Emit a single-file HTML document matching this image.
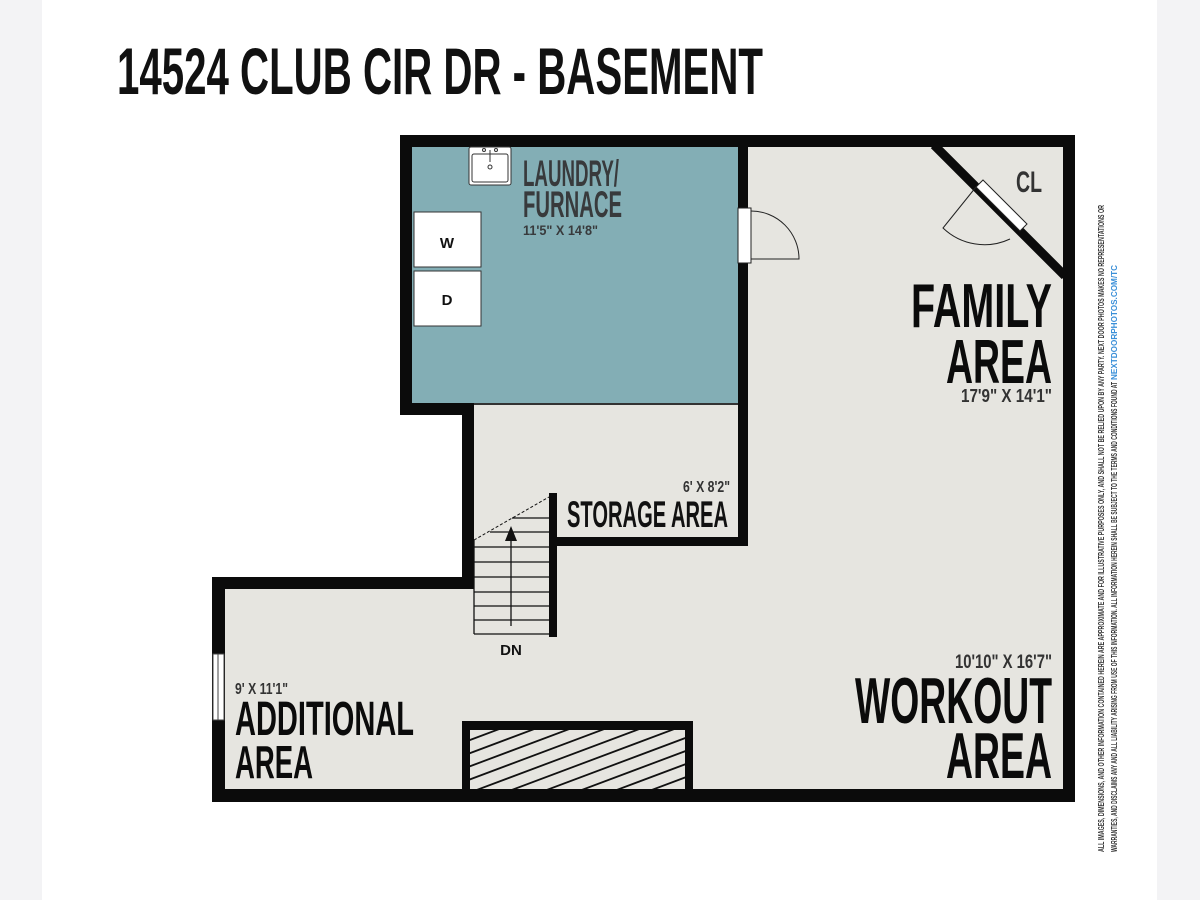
<!DOCTYPE html>
<html><head><meta charset="utf-8"><style>
html,body{margin:0;padding:0;background:#f3f3f5;}
svg{display:block}
text{font-family:"Liberation Sans Narrow","Liberation Sans",sans-serif;font-weight:bold;}
</style></head><body>
<svg width="1200" height="900" viewBox="0 0 1200 900" xmlns="http://www.w3.org/2000/svg">
<rect x="0" y="0" width="1200" height="900" fill="#f3f3f5"/>
<rect x="42" y="0" width="1115" height="900" fill="#ffffff"/>
<text x="117" y="94" font-size="66" textLength="646" lengthAdjust="spacingAndGlyphs" fill="#111">14524 CLUB CIR DR - BASEMENT</text>

<polygon points="400,135 1075,135 1075,802 212,802 212,577 462,577 462,415 400,415" fill="#0b0b0b"/>
<polygon points="412,147 1063,147 1063,789 225,789 225,589 474,589 474,403 412,403" fill="#e6e5e0"/>
<rect x="412" y="147" width="326" height="256" fill="#83aeb5"/>
<rect x="474" y="403" width="264" height="2" fill="#333"/>
<rect x="738" y="147" width="10" height="399" fill="#0b0b0b"/>
<rect x="557" y="537" width="191" height="9" fill="#0b0b0b"/>
<rect x="549" y="493" width="8" height="144" fill="#0b0b0b"/>
<line x1="934" y1="145" x2="1065" y2="276" stroke="#0b0b0b" stroke-width="9"/>

<polygon points="983,180 1027,224 1020,231 976,187" fill="#fff" stroke="#222" stroke-width="1"/>
<path d="M976,187 L943,228 A60,60 0 0 0 1010,239" fill="none" stroke="#222" stroke-width="1"/>

<rect x="738" y="208" width="13" height="55" fill="#fff" stroke="#222" stroke-width="1"/>
<path d="M751,211 A48,48 0 0 1 799,259 L751,259" fill="none" stroke="#222" stroke-width="1"/>

<rect x="469" y="147" width="42" height="38" rx="2" fill="#fff" stroke="#333" stroke-width="1"/>
<rect x="472" y="154" width="36" height="28" rx="2" fill="#fff" stroke="#333" stroke-width="1"/>
<circle cx="490" cy="167" r="2" fill="none" stroke="#333"/>
<line x1="490" y1="150" x2="490" y2="162" stroke="#333"/>
<circle cx="484" cy="150" r="1.5" fill="none" stroke="#333"/><circle cx="496" cy="150" r="1.5" fill="none" stroke="#333"/>

<rect x="414" y="212" width="67" height="55" fill="#fff" stroke="#333" stroke-width="1"/>
<rect x="414" y="271" width="67" height="55" fill="#fff" stroke="#333" stroke-width="1"/>
<text x="447" y="248" font-size="15" text-anchor="middle" fill="#111">W</text>
<text x="447" y="305" font-size="15" text-anchor="middle" fill="#111">D</text>

<g stroke="#111" stroke-width="1.3">
<line x1="474" y1="540" x2="474" y2="634"/>
<line x1="474" y1="634" x2="549" y2="634"/>
<line x1="474" y1="620" x2="549" y2="620"/>
<line x1="474" y1="606" x2="549" y2="606"/>
<line x1="474" y1="592" x2="549" y2="592"/>
<line x1="474" y1="577" x2="549" y2="577"/>
<line x1="474" y1="562" x2="549" y2="562"/>
<line x1="474" y1="547" x2="549" y2="547"/>
<line x1="490" y1="532" x2="549" y2="532"/>
<line x1="512" y1="518" x2="549" y2="518"/>
<line x1="511" y1="626" x2="511" y2="538"/>
</g>
<line x1="474" y1="540" x2="549" y2="497" stroke="#111" stroke-width="1" stroke-dasharray="3,2"/>
<polygon points="511,526 505,541 517,541" fill="#111"/>
<text x="511" y="655" font-size="15" text-anchor="middle" fill="#111">DN</text>

<rect x="213" y="654" width="11" height="66" fill="#fff" stroke="#444" stroke-width="1"/>
<line x1="218" y1="654" x2="218" y2="720" stroke="#444" stroke-width="1"/>

<rect x="462" y="721" width="231" height="69" fill="#0b0b0b"/>
<clipPath id="hc"><rect x="470" y="730" width="215" height="59"/></clipPath>
<rect x="470" y="730" width="215" height="59" fill="#e6e5e0"/>
<g clip-path="url(#hc)" stroke="#111" stroke-width="1.8">
<line x1="310" y1="800" x2="510" y2="725"/>
<line x1="345" y1="800" x2="545" y2="725"/>
<line x1="380" y1="800" x2="580" y2="725"/>
<line x1="415" y1="800" x2="615" y2="725"/>
<line x1="450" y1="800" x2="650" y2="725"/>
<line x1="485" y1="800" x2="685" y2="725"/>
<line x1="520" y1="800" x2="720" y2="725"/>
<line x1="555" y1="800" x2="755" y2="725"/>
<line x1="590" y1="800" x2="790" y2="725"/>
<line x1="625" y1="800" x2="825" y2="725"/>
<line x1="660" y1="800" x2="860" y2="725"/>
</g>

<text x="523" y="186" font-size="37" textLength="96" lengthAdjust="spacingAndGlyphs" fill="#383a3c">LAUNDRY/</text>
<text x="523" y="217" font-size="37" textLength="99" lengthAdjust="spacingAndGlyphs" fill="#383a3c">FURNACE</text>
<text x="523" y="235" font-size="14" textLength="75" lengthAdjust="spacingAndGlyphs" fill="#383a3c" font-weight="normal">11'5" X 14'8"</text>

<text x="1016" y="192" font-size="30" textLength="26" lengthAdjust="spacingAndGlyphs" fill="#333">CL</text>
<text x="911" y="327" font-size="62" textLength="141" lengthAdjust="spacingAndGlyphs" fill="#0b0b0b">FAMILY</text>
<text x="946" y="383" font-size="62" textLength="106" lengthAdjust="spacingAndGlyphs" fill="#0b0b0b">AREA</text>
<text x="961" y="402" font-size="18" textLength="91" lengthAdjust="spacingAndGlyphs" fill="#333" font-weight="normal">17'9" X 14'1"</text>

<text x="683" y="492" font-size="16" textLength="47" lengthAdjust="spacingAndGlyphs" fill="#333" font-weight="normal">6' X 8'2"</text>
<text x="567" y="527" font-size="37" textLength="161" lengthAdjust="spacingAndGlyphs" fill="#111">STORAGE AREA</text>

<text x="955" y="668" font-size="19" textLength="97" lengthAdjust="spacingAndGlyphs" fill="#333" font-weight="normal">10'10" X 16'7"</text>
<text x="855" y="723" font-size="65" textLength="197" lengthAdjust="spacingAndGlyphs" fill="#0b0b0b">WORKOUT</text>
<text x="946" y="778" font-size="65" textLength="106" lengthAdjust="spacingAndGlyphs" fill="#0b0b0b">AREA</text>

<text x="235" y="694" font-size="16" textLength="53" lengthAdjust="spacingAndGlyphs" fill="#333" font-weight="normal">9' X 11'1"</text>
<text x="235" y="735" font-size="48" textLength="179" lengthAdjust="spacingAndGlyphs" fill="#0b0b0b">ADDITIONAL</text>
<text x="235" y="778" font-size="46" textLength="78" lengthAdjust="spacingAndGlyphs" fill="#0b0b0b">AREA</text>

<g transform="translate(1104,852) rotate(-90)">
<text x="0" y="0" font-size="8" textLength="647" lengthAdjust="spacingAndGlyphs" fill="#333" font-weight="normal">ALL IMAGES, DIMENSIONS, AND OTHER INFORMATION CONTAINED HEREIN ARE APPROXIMATE AND FOR ILLUSTRATIVE PURPOSES ONLY, AND SHALL NOT BE RELIED UPON BY ANY PARTY. NEXT DOOR PHOTOS MAKES NO REPRESENTATIONS OR</text>
<text x="0" y="13" font-size="8" textLength="470" lengthAdjust="spacingAndGlyphs" fill="#333" font-weight="normal">WARRANTIES, AND DISCLAIMS ANY AND ALL LIABILITY ARISING FROM USE OF THIS INFORMATION. ALL INFORMATION HEREIN SHALL BE SUBJECT TO THE TERMS AND CONDITIONS FOUND AT</text>
<text x="472" y="13" font-size="8" textLength="115" lengthAdjust="spacingAndGlyphs" fill="#3a8fd8" font-weight="normal">NEXTDOORPHOTOS.COM/TC</text>
</g>
</svg>
</body></html>
